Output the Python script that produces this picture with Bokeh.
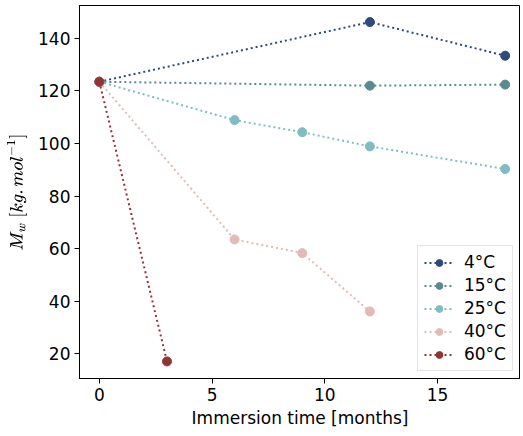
from bokeh.plotting import figure
from bokeh.models import Range1d, Legend, LegendItem, FixedTicker
from bokeh.embed import file_html
from bokeh.resources import INLINE

labels = ["4°C", "15°C", "25°C", "40°C", "60°C"]
colors = ["#2c4a7c", "#5a8a8f", "#7fbdc3", "#e4bab7", "#933434"]
t_4 = [0, 12, 18]
mw_4 = [123.5, 146.2, 133.4]
t_15 = [0, 12, 18]
mw_15 = [123.5, 122.0, 122.4]
t_25 = [0, 6, 9, 12, 18]
mw_25 = [123.5, 108.9, 104.3, 98.9, 90.3]
t_40 = [0, 6, 9, 12]
mw_40 = [123.5, 63.5, 58.3, 36.1]
t_60 = [0, 3]
mw_60 = [123.5, 17.1]
series = [(t_4, mw_4), (t_15, mw_15), (t_25, mw_25), (t_40, mw_40), (t_60, mw_60)]

p = figure(width=520, height=430, output_backend="svg", toolbar_location=None,
           x_range=Range1d(-0.88, 18.68), y_range=Range1d(10.6, 152.5),
           min_border_left=79, min_border_right=0, min_border_top=5, min_border_bottom=48)
p.grid.visible = False
p.outline_line_color = "black"
p.outline_line_width = 1
p.background_fill_color = "white"

items = []
for (t, m), c, lab in zip(series, colors, labels):
    r1 = p.line(t, m, line_color=c, line_width=2, line_dash="2 3")
    r2 = p.scatter(t, m, size=9, fill_color=c, line_color=c)
    items.append(LegendItem(label=lab, renderers=[r1, r2]))

leg = Legend(items=items, location="bottom_right")
leg.label_text_font = "DejaVu Sans"
leg.label_text_font_size = "17px"
leg.label_text_color = "black"
leg.label_height = 17
leg.border_line_color = "#cccccc"
leg.border_line_width = 1
leg.background_fill_alpha = 0.85
leg.glyph_width = 30
leg.glyph_height = 17
leg.spacing = 3
leg.padding = 6
leg.margin = 7
leg.label_standoff = 10
p.add_layout(leg)

p.xaxis.ticker = FixedTicker(ticks=[0, 5, 10, 15])
p.yaxis.ticker = FixedTicker(ticks=[20, 40, 60, 80, 100, 120, 140])
p.xaxis.axis_label = "Immersion time [months]"
p.yaxis.axis_label = r"$$M_w\ [kg.mol^{-1}]$$"
for ax in (p.xaxis[0], p.yaxis[0]):
    ax.major_label_text_font = "DejaVu Sans"
    ax.major_label_text_font_size = "17px"
    ax.major_label_text_color = "black"
    ax.axis_label_text_font = "DejaVu Sans"
    ax.axis_label_text_font_size = "17px"
    ax.axis_label_text_font_style = "normal"
    ax.axis_label_text_color = "black"
    ax.major_tick_out = 5
    ax.major_tick_in = 0
    ax.minor_tick_out = 0
    ax.minor_tick_in = 0
    ax.axis_line_color = "black"
    ax.major_tick_line_color = "black"
    ax.major_label_standoff = 4
    ax.axis_label_standoff = 4
p.yaxis[0].axis_label_text_font_size = "14.5px"
p.yaxis[0].axis_label_standoff = 8

open("out.html", "w").write(file_html(p, INLINE))
